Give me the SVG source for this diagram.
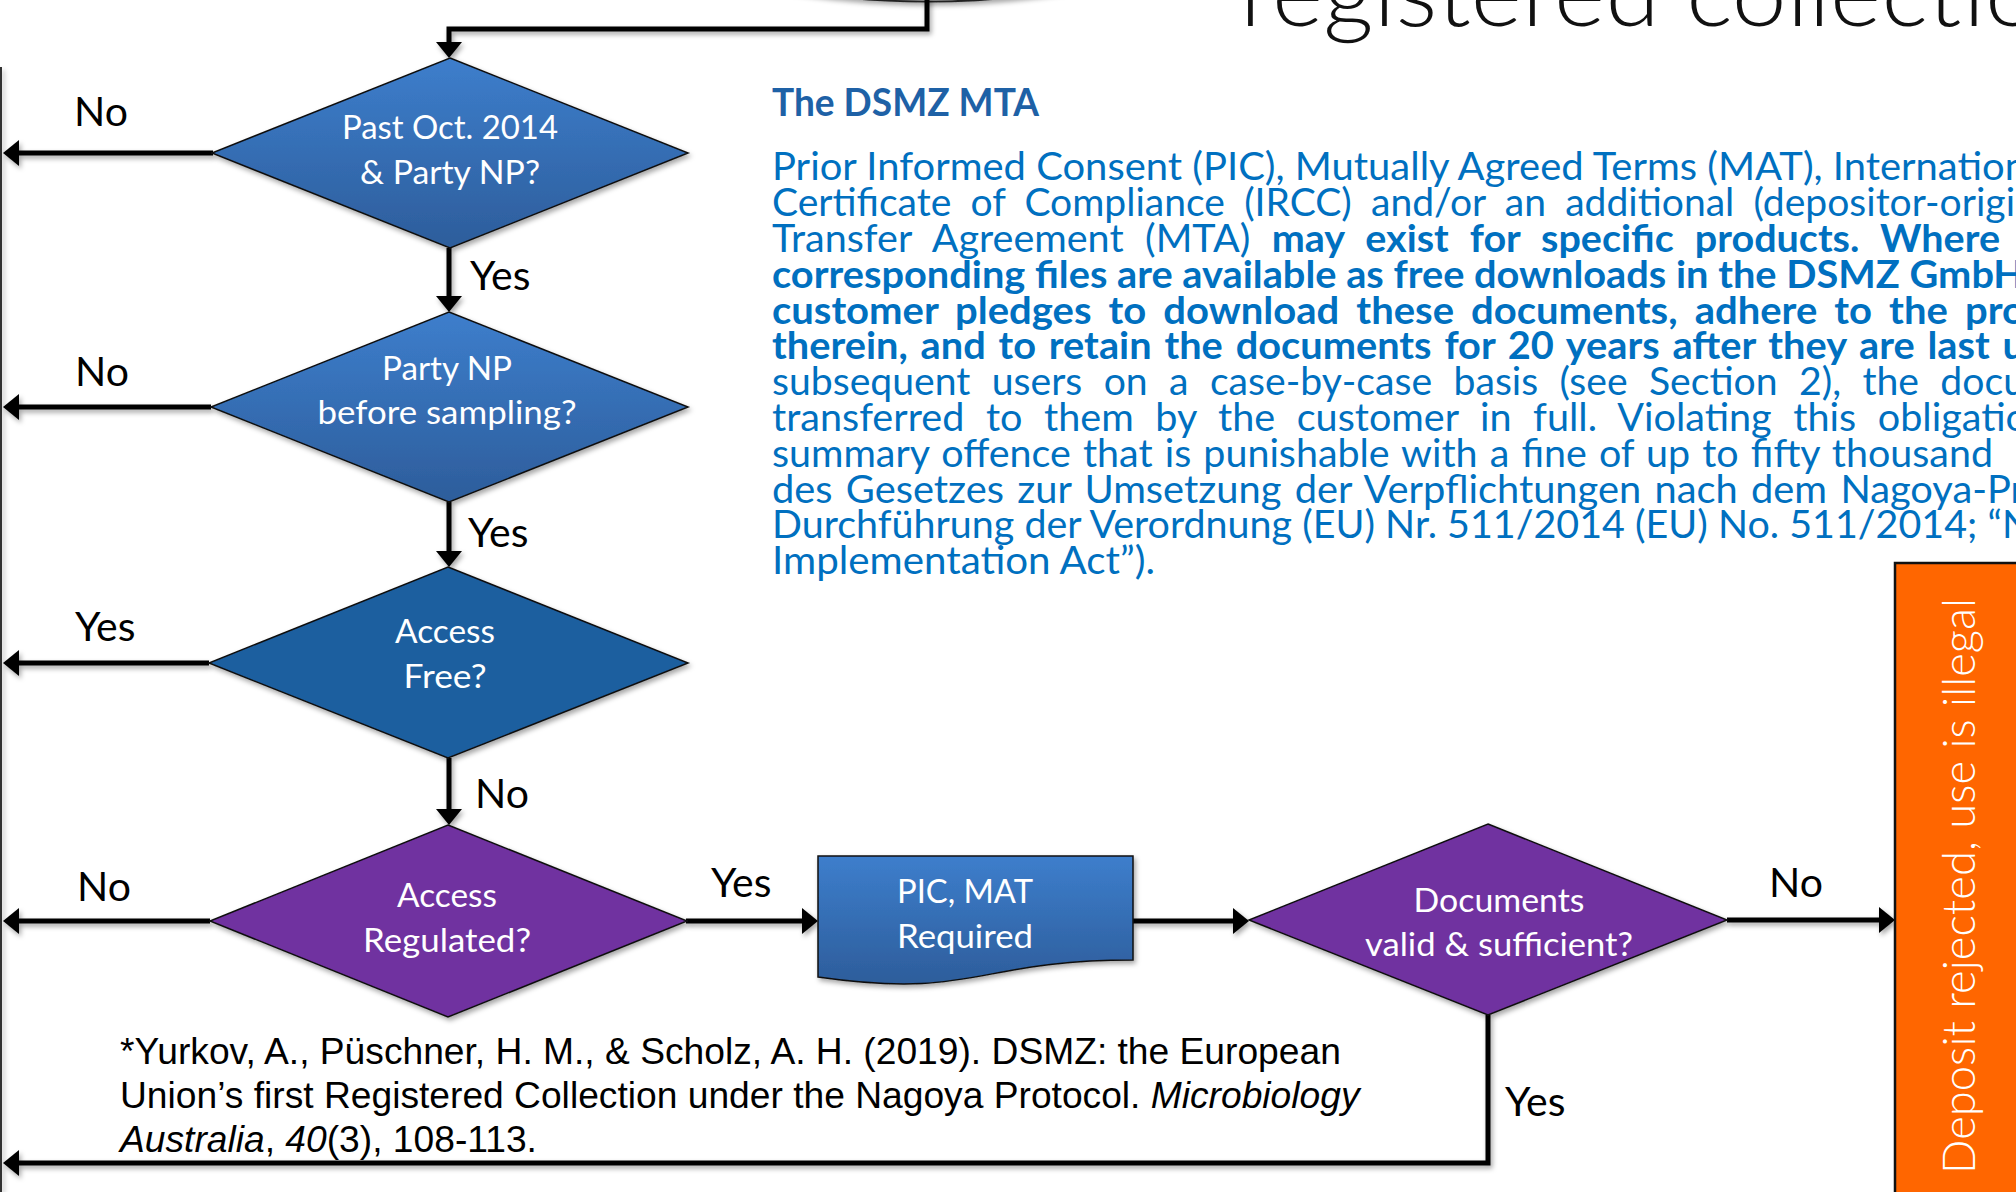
<svg xmlns="http://www.w3.org/2000/svg" width="2016" height="1192" viewBox="0 0 2016 1192">
<defs>
<linearGradient id="gBlue" x1="0" y1="0" x2="0" y2="1">
<stop offset="0" stop-color="#3D7ECC"/>
<stop offset="1" stop-color="#2D5D9B"/>
</linearGradient>
<filter id="sh" x="-10%" y="-10%" width="130%" height="130%">
<feDropShadow dx="2" dy="3" stdDeviation="2.5" flood-color="#000" flood-opacity="0.35"/>
</filter>
<marker id="ah" viewBox="0 0 16 26" markerWidth="16" markerHeight="26" refX="6" refY="13" orient="auto" markerUnits="userSpaceOnUse">
<path d="M0,0 L16,13 L0,26 z" fill="#000"/>
</marker>
<style>
.lbl{font-family:Lato,"Open Sans",sans-serif;font-size:41px;fill:#000}
.dt{font-family:Lato,"Open Sans",sans-serif;font-size:32.5px;fill:#fff;text-anchor:middle}
.body{font-family:Lato,"Open Sans",sans-serif;font-size:38px;fill:#0070C0}
.b{font-weight:700}
.cite{font-family:"Liberation Sans",Arial,sans-serif;font-size:37.2px;fill:#000}
.conn{fill:none;stroke:#000;stroke-width:5;stroke-linejoin:miter}
.dia{stroke:#111;stroke-width:1.5}
</style>
</defs>
<rect width="2016" height="1192" fill="#fff"/>

<g id="title">
<text x="1240" y="26" font-family="Lato,'Open Sans',sans-serif" font-weight="300" font-size="92" fill="#111" textLength="800" lengthAdjust="spacingAndGlyphs">registered collectio</text>
</g>

<g id="top-node">
<ellipse cx="927" cy="-200" rx="420" ry="201.5" fill="#fff" stroke="#222" stroke-width="2" filter="url(#sh)"/>
</g>

<g id="connectors" filter="url(#sh)">
<path class="conn" d="M1,67 V1192" style="stroke-width:2;stroke:#333"/>
<path class="conn" d="M927,-5 V29 H449 V48" marker-end="url(#ah)"/>
<path class="conn" d="M213,153 H13" marker-end="url(#ah)"/>
<path class="conn" d="M449,248 V302" marker-end="url(#ah)"/>
<path class="conn" d="M211,407 H13" marker-end="url(#ah)"/>
<path class="conn" d="M449,502 V557" marker-end="url(#ah)"/>
<path class="conn" d="M209,663 H13" marker-end="url(#ah)"/>
<path class="conn" d="M449,758 V815" marker-end="url(#ah)"/>
<path class="conn" d="M210,921 H13" marker-end="url(#ah)"/>
<path class="conn" d="M686,921 H808" marker-end="url(#ah)"/>
<path class="conn" d="M1133,921 H1239" marker-end="url(#ah)"/>
<path class="conn" d="M1727,920 H1885" marker-end="url(#ah)"/>
<path class="conn" d="M1488,1015 V1163 H13" marker-end="url(#ah)"/>
</g>

<g id="labels">
<text class="lbl" x="74" y="126">No</text>
<text class="lbl" x="470" y="290">Yes</text>
<text class="lbl" x="75" y="386">No</text>
<text class="lbl" x="468" y="547">Yes</text>
<text class="lbl" x="75" y="641">Yes</text>
<text class="lbl" x="475" y="808">No</text>
<text class="lbl" x="77" y="901">No</text>
<text class="lbl" x="711" y="897">Yes</text>
<text class="lbl" x="1769" y="897">No</text>
<text class="lbl" x="1505" y="1116">Yes</text>
</g>

<g id="d1">
<polygon class="dia" points="450,58 688,153 450,248 212,153" fill="url(#gBlue)" filter="url(#sh)"/>
<text class="dt" x="450" y="139" textLength="216" lengthAdjust="spacingAndGlyphs">Past Oct. 2014</text>
<text class="dt" x="450" y="184" textLength="180" lengthAdjust="spacingAndGlyphs">&amp; Party NP?</text>
</g>

<g id="d2">
<polygon class="dia" points="449,312 688,407 449,502 211,407" fill="url(#gBlue)" filter="url(#sh)"/>
<text class="dt" x="447" y="380" textLength="130" lengthAdjust="spacingAndGlyphs">Party NP</text>
<text class="dt" x="447" y="424" textLength="259" lengthAdjust="spacingAndGlyphs">before sampling?</text>
</g>

<g id="d3">
<polygon class="dia" points="448,567 688,663 448,758 209,663" fill="#1C5E9F" filter="url(#sh)"/>
<text class="dt" x="445" y="643" textLength="100" lengthAdjust="spacingAndGlyphs">Access</text>
<text class="dt" x="445" y="688" textLength="83" lengthAdjust="spacingAndGlyphs">Free?</text>
</g>

<g id="d4">
<polygon class="dia" points="448,825 687,921 448,1017 210,921" fill="#7030A0" filter="url(#sh)"/>
<text class="dt" x="447" y="907" textLength="100" lengthAdjust="spacingAndGlyphs">Access</text>
<text class="dt" x="447" y="952" textLength="168" lengthAdjust="spacingAndGlyphs">Regulated?</text>
</g>

<g id="pic">
<path d="M818,856 H1133 V960 C975.5,960 975.5,999.6 818,977 Z" fill="url(#gBlue)" stroke="#111" stroke-width="1.5" filter="url(#sh)"/>
<text class="dt" x="965" y="903" textLength="136" lengthAdjust="spacingAndGlyphs">PIC, MAT</text>
<text class="dt" x="965" y="948" textLength="136" lengthAdjust="spacingAndGlyphs">Required</text>
</g>

<g id="d5">
<polygon class="dia" points="1488,824 1727,920 1488,1015 1249,920" fill="#7030A0" filter="url(#sh)"/>
<text class="dt" x="1499" y="912" textLength="171" lengthAdjust="spacingAndGlyphs">Documents</text>
<text class="dt" x="1499" y="956" textLength="268" lengthAdjust="spacingAndGlyphs">valid &amp; sufficient?</text>
</g>

<g id="rejected">
<rect x="1895" y="563" width="140" height="650" fill="#FF6600" stroke="#111" stroke-width="2.5"/>
<text transform="translate(1975,886) rotate(-90)" text-anchor="middle" font-family="Lato,'Open Sans',sans-serif" font-weight="300" font-size="46" fill="#fff" textLength="576" lengthAdjust="spacingAndGlyphs">Deposit rejected, use is illegal</text>
</g>

<g id="mta-text">
<text class="body b" x="772" y="116" style="fill:#1E61A6" textLength="267" lengthAdjust="spacingAndGlyphs">The DSMZ MTA</text>
<text class="body" x="772" y="180.4" textLength="1255" lengthAdjust="spacingAndGlyphs">Prior Informed Consent (PIC), Mutually Agreed Terms (MAT), Internation</text>
<text class="body" x="772" y="216.2" word-spacing="9" textLength="1243" lengthAdjust="spacingAndGlyphs">Certificate of Compliance (IRCC) and/or an additional (depositor-origi</text>
<text class="body" x="772" y="252" word-spacing="11" textLength="1228" lengthAdjust="spacingAndGlyphs">Transfer Agreement (MTA) <tspan class="b">may exist for specific products. Where</tspan></text>
<text class="body b" x="772" y="287.8" textLength="1252" lengthAdjust="spacingAndGlyphs">corresponding files are available as free downloads in the DSMZ GmbH</text>
<text class="body b" x="772" y="323.6" word-spacing="7" textLength="1253" lengthAdjust="spacingAndGlyphs">customer pledges to download these documents, adhere to the pro</text>
<text class="body b" x="772" y="359.4" word-spacing="3" textLength="1253" lengthAdjust="spacingAndGlyphs">therein, and to retain the documents for 20 years after they are last u</text>
<text class="body" x="772" y="395.2" word-spacing="11" textLength="1253" lengthAdjust="spacingAndGlyphs">subsequent users on a case-by-case basis (see Section 2), the docu</text>
<text class="body" x="772" y="431" word-spacing="11" textLength="1256" lengthAdjust="spacingAndGlyphs">transferred to them by the customer in full. Violating this obligatio</text>
<text class="body" x="772" y="466.8" word-spacing="2" textLength="1221" lengthAdjust="spacingAndGlyphs">summary offence that is punishable with a fine of up to fifty thousand</text>
<text class="body" x="772" y="502.6" word-spacing="3" textLength="1253" lengthAdjust="spacingAndGlyphs">des Gesetzes zur Umsetzung der Verpflichtungen nach dem Nagoya-Pr</text>
<text class="body" x="772" y="538.4" textLength="1260" lengthAdjust="spacingAndGlyphs">Durchführung der Verordnung (EU) Nr. 511/2014 (EU) No. 511/2014; “N</text>
<text class="body" x="772" y="574.2" textLength="383" lengthAdjust="spacingAndGlyphs">Implementation Act”).</text>
</g>

<g id="citation">
<text class="cite" x="120" y="1064">*Yurkov, A., Püschner, H. M., &amp; Scholz, A. H. (2019). DSMZ: the European</text>
<text class="cite" x="120" y="1108">Union’s first Registered Collection under the Nagoya Protocol. <tspan font-style="italic">Microbiology</tspan></text>
<text class="cite" x="120" y="1152"><tspan font-style="italic">Australia</tspan>, <tspan font-style="italic">40</tspan>(3), 108-113.</text>
</g>
</svg>
